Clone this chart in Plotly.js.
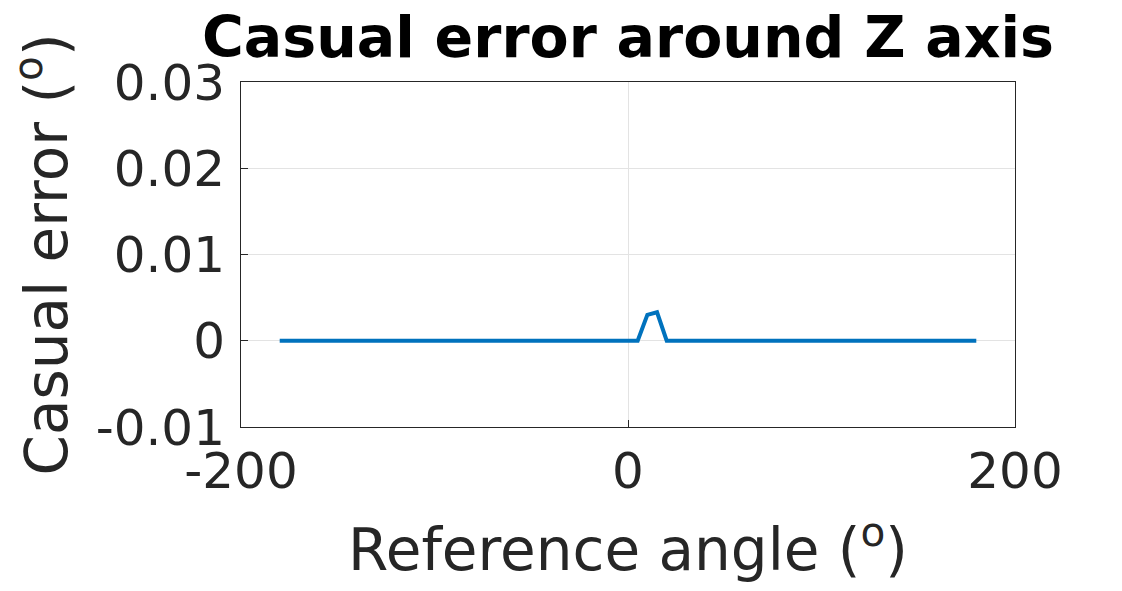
<!DOCTYPE html>
<html>
<head>
<meta charset="utf-8">
<script src="https://cdn.plot.ly/plotly-3.0.1.min.js"></script>
<style>html,body{margin:0;padding:0;background:#fff;}#chart{width:1122px;height:591px;}</style>
</head>
<body>
<div id="chart"></div>
<script>
// Reference angle (degrees) and casual error (degrees)
const referenceAngle = [-180, 5, 10, 15, 20, 180];
const casualError = [0, 0, 0.0030, 0.0033, 0, 0];
const xTicks = [-200, 0, 200];
const xTickLabels = ['-200', '0', '200'];
const yTicks = [-0.01, 0, 0.01, 0.02, 0.03];
const yTickLabels = ['-0.01', '0', '0.01', '0.02', '0.03'];

const FONT = '"DejaVu Sans", sans-serif';
const INK = '#262626';

const trace = {
  x: referenceAngle,
  y: casualError,
  type: 'scatter',
  mode: 'lines',
  line: {color: '#0072BD', width: 4},
  hoverinfo: 'x+y',
  showlegend: false
};

const layout = {
  width: 1122,
  height: 591,
  paper_bgcolor: '#ffffff',
  plot_bgcolor: '#ffffff',
  margin: {l: 241, r: 107, t: 82, b: 164},
  font: {family: FONT, color: INK},
  title: {
    text: '<b>Casual error around Z axis</b>',
    font: {family: FONT, size: 57, color: '#000000'},
    x: 0.5, xref: 'paper', xanchor: 'center',
    y: 1, yref: 'container', yanchor: 'top', pad: {t: 17}
  },
  xaxis: {
    range: [-200, 200],
    tickvals: xTicks,
    ticktext: xTickLabels,
    ticks: 'inside', ticklen: 7, tickwidth: 1, tickcolor: INK,
    showgrid: true, gridcolor: '#e3e3e3', gridwidth: 1,
    zeroline: false,
    showline: true, linecolor: INK, linewidth: 1, mirror: true,
    tickfont: {family: FONT, size: 50, color: INK},
    ticklabelstandoff: 0,
    title: {text: 'Reference angle (<sup>o</sup>)', font: {family: FONT, size: 58, color: INK}, standoff: 30},
    automargin: false
  },
  yaxis: {
    range: [-0.01, 0.03],
    tickvals: yTicks,
    ticktext: yTickLabels,
    ticks: 'inside', ticklen: 7, tickwidth: 1, tickcolor: INK,
    showgrid: true, gridcolor: '#e3e3e3', gridwidth: 1,
    zeroline: false,
    showline: true, linecolor: INK, linewidth: 1, mirror: true,
    tickfont: {family: FONT, size: 50, color: INK},
    ticklabelstandoff: 5,
    title: {text: 'Casual error (<sup>o</sup>)', font: {family: FONT, size: 58, color: INK}, standoff: 9},
    automargin: false
  }
};

Plotly.newPlot('chart', [trace], layout, {displayModeBar: false, staticPlot: true});
</script>
</body>
</html>
